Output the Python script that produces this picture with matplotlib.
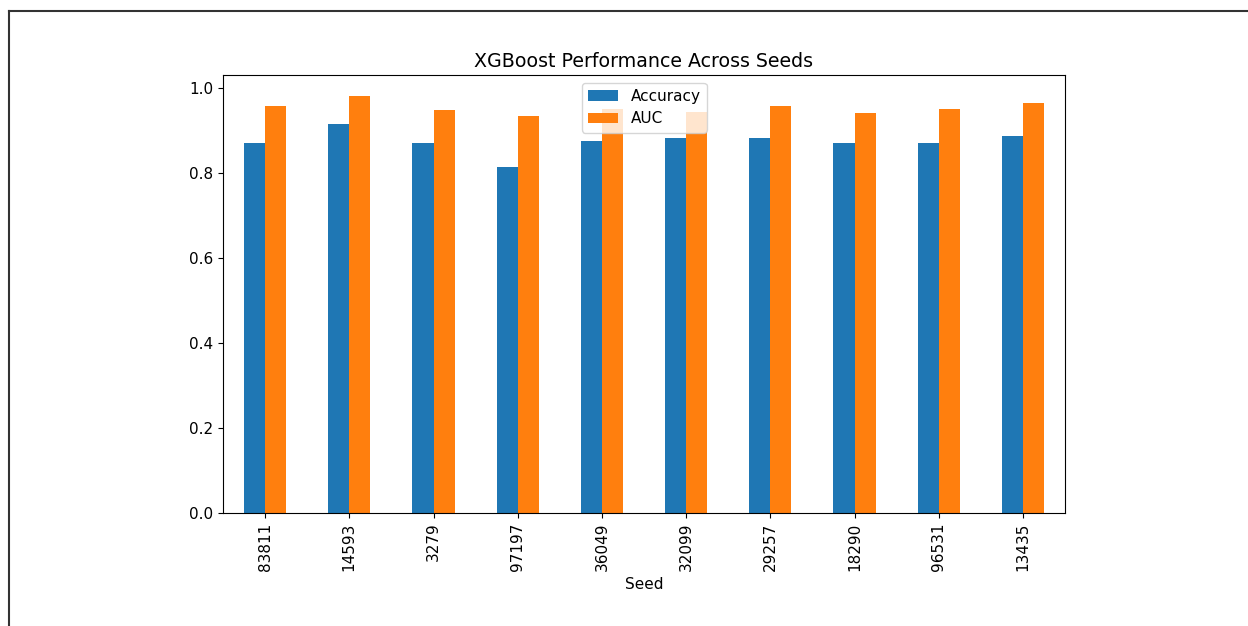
import matplotlib
matplotlib.use("Agg")
import matplotlib.pyplot as plt
import numpy as np
from matplotlib.lines import Line2D

seeds = ["83811", "14593", "3279", "97197", "36049",
         "32099", "29257", "18290", "96531", "13435"]
accuracy = [0.871, 0.915, 0.871, 0.813, 0.876,
            0.882, 0.882, 0.871, 0.871, 0.887]
auc = [0.956, 0.981, 0.948, 0.934, 0.950,
       0.944, 0.958, 0.940, 0.951, 0.964]

fig = plt.figure(figsize=(12.48, 6.26), dpi=100)
ax = fig.add_axes([223/1248, 1 - 513/626, (1065-223)/1248, (513-75)/626])

x = np.arange(len(seeds))
w = 0.25
ax.bar(x - w/2, accuracy, w, color="#1f77b4", label="Accuracy")
ax.bar(x + w/2, auc, w, color="#ff7f0e", label="AUC")

ax.set_xticks(x)
ax.set_xticklabels(seeds, rotation=90, fontsize=11)
ax.set_xlim(-0.5, len(seeds) - 0.5)
ax.set_ylim(0, max(auc) * 1.05)
ax.tick_params(axis="y", labelsize=11)
ax.set_xlabel("Seed", fontsize=11)
ax.set_title("XGBoost Performance Across Seeds", fontsize=13.7)
ax.legend(loc="upper center", fontsize=11)

# screenshot border (left and top)
fig.add_artist(Line2D([9/1248, 9/1248], [0, 1 - 11/626], transform=fig.transFigure,
                      color="#333333", linewidth=1.5))
fig.add_artist(Line2D([9/1248, 1], [1 - 11/626, 1 - 11/626], transform=fig.transFigure,
                      color="#333333", linewidth=1.5))

fig.savefig("out.png", dpi=100)
